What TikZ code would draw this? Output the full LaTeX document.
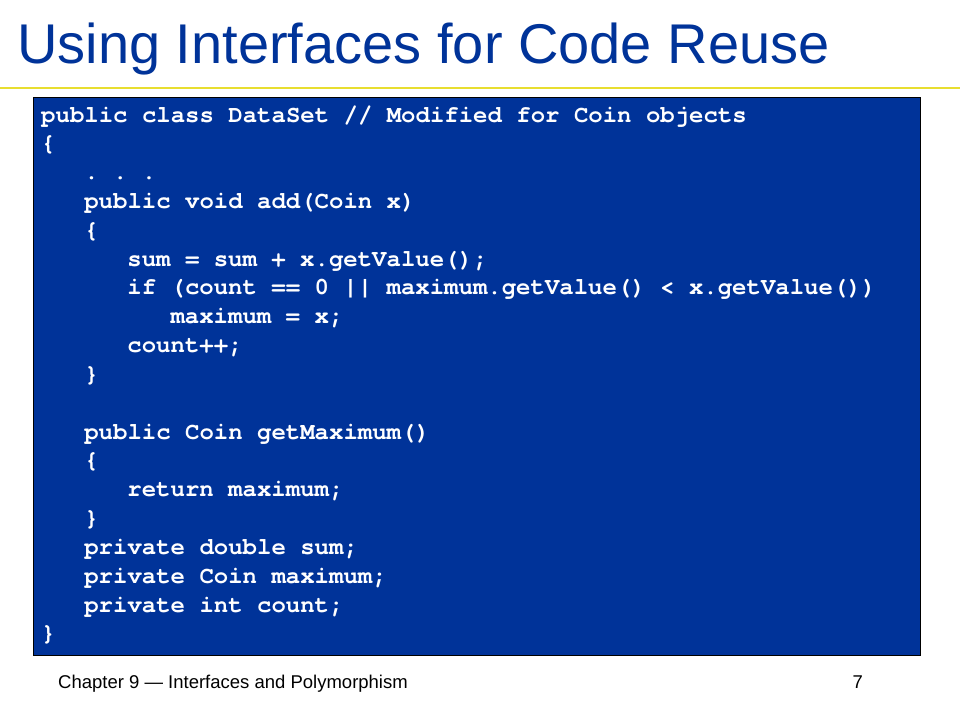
\documentclass[tikz,border=0pt]{standalone}
\usepackage{fontspec}
\setmainfont{Liberation Sans}
\setmonofont{TeX Gyre Cursor}[Ligatures=NoCommon]
\usetikzlibrary{positioning}
\definecolor{slideblue}{RGB}{0,51,153}
\definecolor{slideyellow}{RGB}{232,222,48}

\begin{document}
\begin{tikzpicture}[x=1pt,y=-1pt,
    titletext/.style={anchor=base west, inner sep=0, text=slideblue, font=\fontsize{56}{60}\selectfont},
    codeline/.style={anchor=base west, inner sep=0, text=white, font=\fontsize{24}{28}\selectfont\ttfamily\bfseries\frenchspacing},
    foottext/.style={inner sep=0, text=black, font=\fontsize{18.5}{22}\selectfont}
    ]
\edef\lx{41}
\edef\ly{122}
\edef\cw{14.37}
\edef\dy{28.83}

\useasboundingbox (0,0) rectangle (960,720);
\fill[white] (0,0) rectangle (960,720);

\node[titletext] (title) at (17,63) {Using Interfaces for Code Reuse};
\draw [line width=2.8pt, slideyellow](0,88) -- (960,88);

\filldraw[fill=slideblue, draw=black, line width=1pt](33,97) rectangle (920,655);

\node[codeline] (l1) at (\lx,\ly) {public class DataSet // Modified for Coin objects};
\node[codeline] (l2) at (\lx,\ly+\dy) {\textbraceleft};
\node[codeline] (l3) at (\lx+3*\cw,\ly+2*\dy) {. . .};
\node[codeline] (l4) at (\lx+3*\cw,\ly+3*\dy) {public void add(Coin x)};
\node[codeline] (l5) at (\lx+3*\cw,\ly+4*\dy) {\textbraceleft};
\node[codeline] (l6) at (\lx+6*\cw,\ly+5*\dy) {sum = sum + x.getValue();};
\node[codeline] (l7) at (\lx+6*\cw,\ly+6*\dy) {if (count == 0 || maximum.getValue() < x.getValue())};
\node[codeline] (l8) at (\lx+9*\cw,\ly+7*\dy) {maximum = x;};
\node[codeline] (l9) at (\lx+6*\cw,\ly+8*\dy) {count++;};
\node[codeline] (l10) at (\lx+3*\cw,\ly+9*\dy) {\textbraceright};
\node[codeline] (l12) at (\lx+3*\cw,\ly+11*\dy) {public Coin getMaximum()};
\node[codeline] (l13) at (\lx+3*\cw,\ly+12*\dy) {\textbraceleft};
\node[codeline] (l14) at (\lx+6*\cw,\ly+13*\dy) {return maximum;};
\node[codeline] (l15) at (\lx+3*\cw,\ly+14*\dy) {\textbraceright};
\node[codeline] (l16) at (\lx+3*\cw,\ly+15*\dy) {private double sum;};
\node[codeline] (l17) at (\lx+3*\cw,\ly+16*\dy) {private Coin maximum;};
\node[codeline] (l18) at (\lx+3*\cw,\ly+17*\dy) {private int count;};
\node[codeline] (l19) at (\lx,\ly+18*\dy) {\textbraceright};

\node[foottext, anchor=base west] (chapter) at (58,688) {Chapter 9 --- Interfaces and Polymorphism};
\node[foottext, anchor=base east] (page) at (863,688) {7};
\end{tikzpicture}
\end{document}
